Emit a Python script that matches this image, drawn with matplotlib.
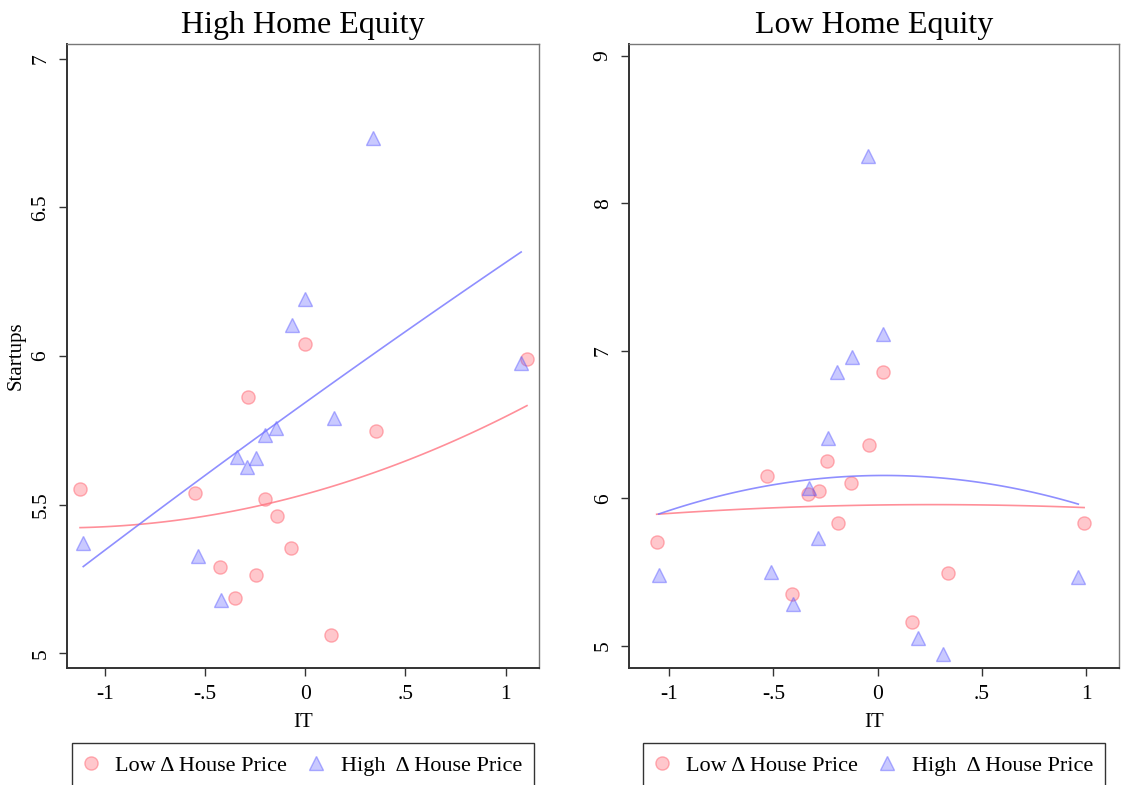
import numpy as np
import matplotlib
matplotlib.use("Agg")
import matplotlib.pyplot as plt

plt.rcParams["font.family"] = ["Liberation Serif", "DejaVu Serif"]

# High Home Equity panel
hi_low_x = [-1.125, -0.553, 0.0, -0.287, 0.355, 1.107, -0.199, -0.140, -0.069, -0.424, -0.247, -0.349, 0.130]
hi_low_y = [5.552, 5.540, 6.039, 5.861, 5.748, 5.989, 5.518, 5.463, 5.355, 5.289, 5.264, 5.186, 5.061]
hi_high_x = [0.340, -0.003, -0.065, 1.078, 0.145, -0.144, -0.202, -0.342, -0.245, -0.292, -1.109, -0.534, -0.419]
hi_high_y = [6.735, 6.193, 6.105, 5.977, 5.792, 5.758, 5.733, 5.660, 5.657, 5.626, 5.370, 5.327, 5.178]

# Low Home Equity panel
lo_low_x = [0.027, -0.043, -0.243, -0.532, -0.126, -0.281, -0.336, -0.192, 0.989, -1.059, 0.335, -0.409, 0.163]
lo_low_y = [6.858, 6.361, 6.252, 6.150, 6.107, 6.049, 6.028, 5.832, 5.832, 5.703, 5.493, 5.355, 5.165]
lo_high_x = [-0.045, 0.027, -0.123, -0.194, -0.240, -0.331, -0.285, -1.049, -0.513, 0.961, -0.407, 0.192, 0.314]
lo_high_y = [8.321, 7.116, 6.958, 6.858, 6.411, 6.072, 5.733, 5.478, 5.503, 5.469, 5.281, 5.051, 4.947]

# quadratic fit coefficients (c2, c1, c0)
hi_low_fit = [0.0758, 0.1853, 5.535]
hi_high_fit = [-0.0128, 0.4836, 5.8435]
lo_low_fit = [-0.0375, 0.0196, 5.955]
lo_high_fit = [-0.2241, 0.0136, 6.155]

x_ticks = [-1, -0.5, 0, 0.5, 1]
x_labels = ["-1", "-.5", "0", ".5", "1"]

pink = (1.0, 0.45, 0.5)
blue = (0.45, 0.45, 1.0)

fig = plt.figure(figsize=(11.21, 7.85), dpi=100)
ax1 = fig.add_axes([0.0598, 0.149, 0.421, 0.795])
ax2 = fig.add_axes([0.5614, 0.149, 0.4368, 0.795])


def draw_panel(ax, lx, ly, hx, hy, lfit, hfit, title):
    ax.plot(lx, ly, "o", ms=9.5, mfc=(1.0, 0.45, 0.5, 0.4), mec=(1.0, 0.35, 0.4, 0.45), mew=1.0,
            ls="none", label="Low \u0394 House Price")
    ax.plot(hx, hy, "^", ms=10, mfc=(0.4, 0.4, 1.0, 0.35), mec=(0.35, 0.35, 1.0, 0.45), mew=1.0,
            ls="none", label="High  \u0394 House Price")
    for xs, coef, c in [(lx, lfit, pink), (hx, hfit, blue)]:
        xx = np.linspace(min(xs), max(xs), 100)
        ax.plot(xx, np.polyval(coef, xx), color=c, lw=1.2, alpha=0.8)
    ax.set_title(title, fontsize=23, pad=8)
    ax.set_xticks(x_ticks)
    ax.set_xticklabels(x_labels)
    ax.set_xlabel("IT", fontsize=15, labelpad=7)
    ax.tick_params(labelsize=15.5, length=6, width=1.0, color="#333333", pad=6)
    for s in ["left", "bottom"]:
        ax.spines[s].set_color("#333333")
        ax.spines[s].set_linewidth(1.4)
    for s in ["top", "right"]:
        ax.spines[s].set_color("#777777")
        ax.spines[s].set_linewidth(1.0)
    leg = ax.legend(loc="upper center", bbox_to_anchor=(0.5, -0.12), ncol=2, fancybox=False,
                    edgecolor="#333333", fontsize=16, handlelength=0.6, handletextpad=0.8,
                    columnspacing=1.0, borderpad=0.55, borderaxespad=0, framealpha=1)
    leg.get_frame().set_linewidth(1.0)


draw_panel(ax1, hi_low_x, hi_low_y, hi_high_x, hi_high_y, hi_low_fit, hi_high_fit, "High Home Equity")
ax1.set_xlim(-1.19, 1.167)
ax1.set_ylim(4.95, 7.05)
ax1.set_yticks([5, 5.5, 6, 6.5, 7])
ax1.set_yticklabels(["5", "5.5", "6", "6.5", "7"], rotation=90, va="center")
ax1.set_ylabel("Startups", fontsize=15, labelpad=4)

draw_panel(ax2, lo_low_x, lo_low_y, lo_high_x, lo_high_y, lo_low_fit, lo_high_fit, "Low Home Equity")
ax2.set_xlim(-1.19, 1.156)
ax2.set_ylim(4.85, 9.08)
ax2.set_yticks([5, 6, 7, 8, 9])
ax2.set_yticklabels(["5", "6", "7", "8", "9"], rotation=90, va="center")

fig.savefig("out.png", dpi=100)
